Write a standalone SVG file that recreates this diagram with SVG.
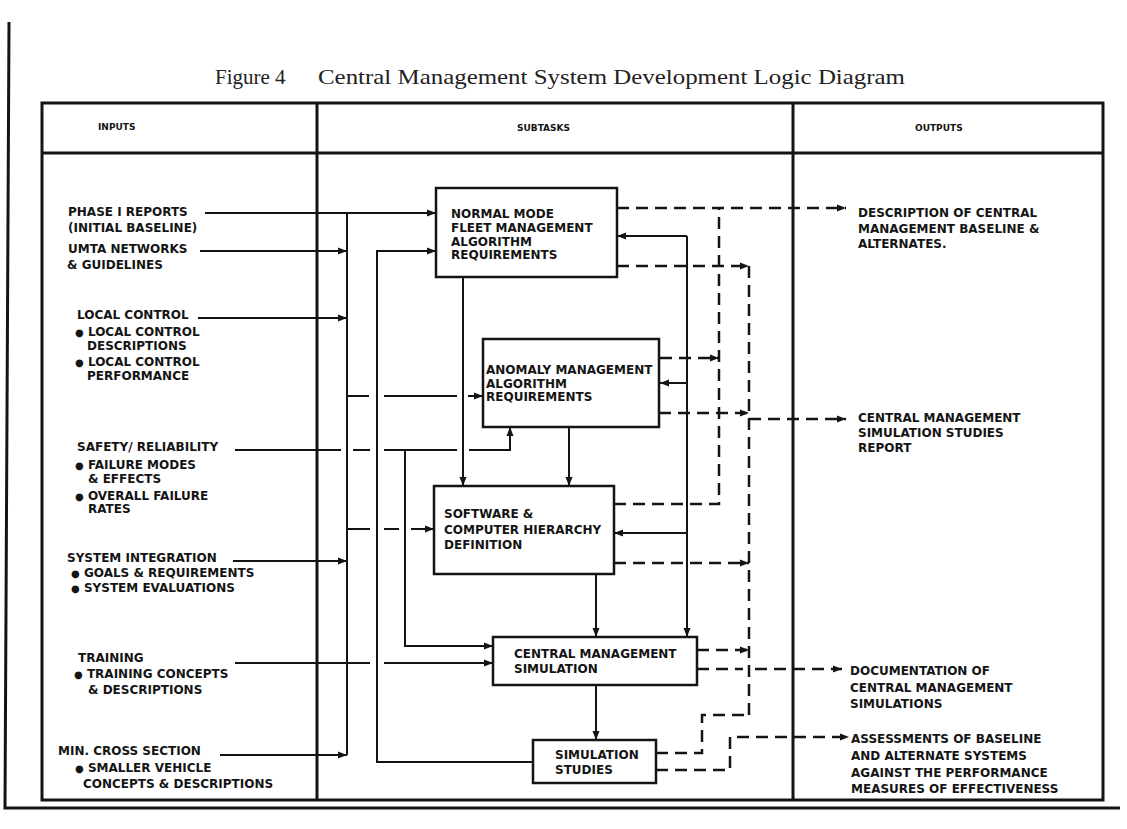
<svg xmlns="http://www.w3.org/2000/svg" width="1127" height="829" viewBox="0 0 1127 829">
<style>
.t{font-family:"DejaVu Sans",sans-serif;font-weight:bold;font-size:12px;fill:#141414}
.h{font-size:9px}
.b{font-size:10px}
.ttl{font-family:"Liberation Serif",serif;font-size:21px;fill:#222}
.ln{stroke:#141414;stroke-width:2;fill:none}
.ds{stroke:#141414;stroke-width:2.5;fill:none;stroke-dasharray:12 7}
.box{fill:#fff;stroke:#141414;stroke-width:2.5}
.fr{stroke:#141414;stroke-width:3;fill:none}
</style>
<defs>
<marker id="a" markerUnits="userSpaceOnUse" markerWidth="10" markerHeight="8" refX="9" refY="4" orient="auto">
<path d="M0,0.5 L9,4 L0,7.5 z" fill="#141414"/>
</marker>
</defs>
<rect width="1127" height="829" fill="#fff"/>
<g id="page-frame">
<path class="fr" d="M9,22 L5,808 L1120,808"/>
</g>
<g id="title">
<text class="ttl" x="215" y="84">Figure 4</text>
<text class="ttl" x="318" y="84" textLength="587" lengthAdjust="spacingAndGlyphs">Central Management System Development  Logic Diagram</text>
</g>
<g id="table">
<rect class="fr" x="42" y="103" width="1061" height="697"/>
<line class="fr" x1="42" y1="153" x2="1103" y2="153"/>
<line class="fr" x1="317" y1="103" x2="317" y2="800"/>
<line class="fr" x1="793" y1="103" x2="793" y2="800"/>
<text class="t h" x="98" y="130">INPUTS</text>
<text class="t h" x="517" y="131">SUBTASKS</text>
<text class="t h" x="915" y="131">OUTPUTS</text>
</g>
<g id="inputs">
<g id="in-phase1"><text class="t" x="68" y="216">PHASE I REPORTS</text><text class="t" x="68" y="232">(INITIAL BASELINE)</text></g>
<g id="in-umta"><text class="t" x="68" y="253">UMTA NETWORKS</text><text class="t" x="67" y="269">&amp; GUIDELINES</text></g>
<g id="in-local"><text class="t" x="77" y="319">LOCAL CONTROL</text><text class="t" x="75" y="336"><tspan class="b">●</tspan> LOCAL CONTROL</text><text class="t" x="87" y="350">DESCRIPTIONS</text><text class="t" x="75" y="366"><tspan class="b">●</tspan> LOCAL CONTROL</text><text class="t" x="87" y="380">PERFORMANCE</text></g>
<g id="in-safety"><text class="t" x="77" y="451">SAFETY/ RELIABILITY</text><text class="t" x="75" y="469"><tspan class="b">●</tspan> FAILURE MODES</text><text class="t" x="88" y="483">&amp; EFFECTS</text><text class="t" x="75" y="500"><tspan class="b">●</tspan> OVERALL FAILURE</text><text class="t" x="88" y="513">RATES</text></g>
<g id="in-sysint"><text class="t" x="67" y="562">SYSTEM INTEGRATION</text><text class="t" x="71" y="577"><tspan class="b">●</tspan> GOALS &amp; REQUIREMENTS</text><text class="t" x="71" y="592"><tspan class="b">●</tspan> SYSTEM EVALUATIONS</text></g>
<g id="in-training"><text class="t" x="78" y="662">TRAINING</text><text class="t" x="74" y="678"><tspan class="b">●</tspan> TRAINING CONCEPTS</text><text class="t" x="88" y="694">&amp; DESCRIPTIONS</text></g>
<g id="in-mincross"><text class="t" x="58" y="755">MIN. CROSS SECTION</text><text class="t" x="75" y="772"><tspan class="b">●</tspan> SMALLER VEHICLE</text><text class="t" x="83" y="788">CONCEPTS &amp; DESCRIPTIONS</text></g>
</g>
<g id="connectors">
<!-- input lines -->
<path class="ln" d="M205,213 H436" marker-end="url(#a)"/>
<path class="ln" d="M200,251 H347" marker-end="url(#a)"/>
<path class="ln" d="M198,318 H347" marker-end="url(#a)"/>
<path class="ln" d="M233,561 H347" marker-end="url(#a)"/>
<path class="ln" d="M220,755 H347" marker-end="url(#a)"/>
<!-- trunk A -->
<path class="ln" d="M347,213 V755"/>
<!-- trunk A to anomaly -->
<path class="ln" d="M347,396 H369 M384,396 H457"/>
<path class="ln" d="M468,396 H483" marker-end="url(#a)"/>
<!-- trunk A to software -->
<path class="ln" d="M347,529 H370 M384,529 H399"/>
<path class="ln" d="M411,529 H434" marker-end="url(#a)"/>
<!-- safety line -->
<path class="ln" d="M235,450 H341 M353,450 H370 M384,450 H457"/>
<path class="ln" d="M469,450 H510 V427" marker-end="url(#a)"/>
<!-- trunk C -->
<path class="ln" d="M405,450 V646 H493" marker-end="url(#a)"/>
<!-- training -->
<path class="ln" d="M235,663 H370"/>
<path class="ln" d="M384,663 H493" marker-end="url(#a)"/>
<!-- trunk B feedback -->
<path class="ln" d="M533,762 H377 V251 H436" marker-end="url(#a)"/>
<!-- vertical flows -->
<path class="ln" d="M463,277 V486" marker-end="url(#a)"/>
<path class="ln" d="M569,427 V486" marker-end="url(#a)"/>
<path class="ln" d="M596,574 V637" marker-end="url(#a)"/>
<path class="ln" d="M596,685 V740" marker-end="url(#a)"/>
<!-- R1 solid -->
<path class="ln" d="M687,236 V637" marker-end="url(#a)"/>
<path class="ln" d="M687,236 H617" marker-end="url(#a)"/>
<path class="ln" d="M687,383 H660" marker-end="url(#a)"/>
<path class="ln" d="M687,533 H614" marker-end="url(#a)"/>
<!-- R3 dashed -->
<path class="ds" d="M617,208 H846" marker-end="url(#a)"/>
<path class="ds" d="M614,504 H719 V208"/>
<path class="ds" d="M660,358 H719" marker-end="url(#a)"/>
<!-- R4 dashed -->
<path class="ds" d="M749,266 V715"/>
<path class="ds" d="M617,266 H749" marker-end="url(#a)"/>
<path class="ds" d="M659,413 H749" marker-end="url(#a)"/>
<path class="ds" d="M749,419 H846" marker-end="url(#a)"/>
<path class="ds" d="M614,563 H749" marker-end="url(#a)"/>
<path class="ds" d="M697,650 H749" marker-end="url(#a)"/>
<path class="ds" d="M656,753 H702 V715 H749"/>
<!-- CMS bottom output -->
<path class="ds" d="M697,669 H743"/>
<path class="ds" d="M755,669 H842" marker-end="url(#a)"/>
<!-- SIM studies bottom output -->
<path class="ds" d="M656,770 H730 V737 H849" marker-end="url(#a)"/>
</g>
<g id="node-normal">
<rect class="box" x="436" y="188" width="181" height="89"/>
<text class="t" x="451" y="218">NORMAL MODE</text>
<text class="t" x="451" y="232">FLEET MANAGEMENT</text>
<text class="t" x="451" y="246">ALGORITHM</text>
<text class="t" x="451" y="259">REQUIREMENTS</text>
</g>
<g id="node-anomaly">
<rect class="box" x="483" y="339" width="176" height="88"/>
<text class="t" x="486" y="374">ANOMALY MANAGEMENT</text>
<text class="t" x="486" y="388">ALGORITHM</text>
<text class="t" x="486" y="401">REQUIREMENTS</text>
</g>
<g id="node-software">
<rect class="box" x="434" y="486" width="180" height="88"/>
<text class="t" x="444" y="518">SOFTWARE &amp;</text>
<text class="t" x="444" y="534">COMPUTER HIERARCHY</text>
<text class="t" x="444" y="549">DEFINITION</text>
</g>
<g id="node-cms">
<rect class="box" x="493" y="637" width="204" height="48"/>
<text class="t" x="514" y="658">CENTRAL MANAGEMENT</text>
<text class="t" x="514" y="673">SIMULATION</text>
</g>
<g id="node-simstudies">
<rect class="box" x="533" y="740" width="123" height="43"/>
<text class="t" x="555" y="759">SIMULATION</text>
<text class="t" x="555" y="774">STUDIES</text>
</g>
<g id="outputs">
<g id="out-description"><text class="t" x="858" y="217">DESCRIPTION OF CENTRAL</text><text class="t" x="858" y="233">MANAGEMENT BASELINE &amp;</text><text class="t" x="858" y="248">ALTERNATES.</text></g>
<g id="out-report"><text class="t" x="858" y="422">CENTRAL MANAGEMENT</text><text class="t" x="858" y="437">SIMULATION STUDIES</text><text class="t" x="858" y="452">REPORT</text></g>
<g id="out-documentation"><text class="t" x="850" y="675">DOCUMENTATION OF</text><text class="t" x="850" y="692">CENTRAL MANAGEMENT</text><text class="t" x="850" y="708">SIMULATIONS</text></g>
<g id="out-assessments"><text class="t" x="851" y="743">ASSESSMENTS OF BASELINE</text><text class="t" x="851" y="760">AND ALTERNATE SYSTEMS</text><text class="t" x="851" y="777">AGAINST THE PERFORMANCE</text><text class="t" x="851" y="793">MEASURES OF EFFECTIVENESS</text></g>
</g>
</svg>
